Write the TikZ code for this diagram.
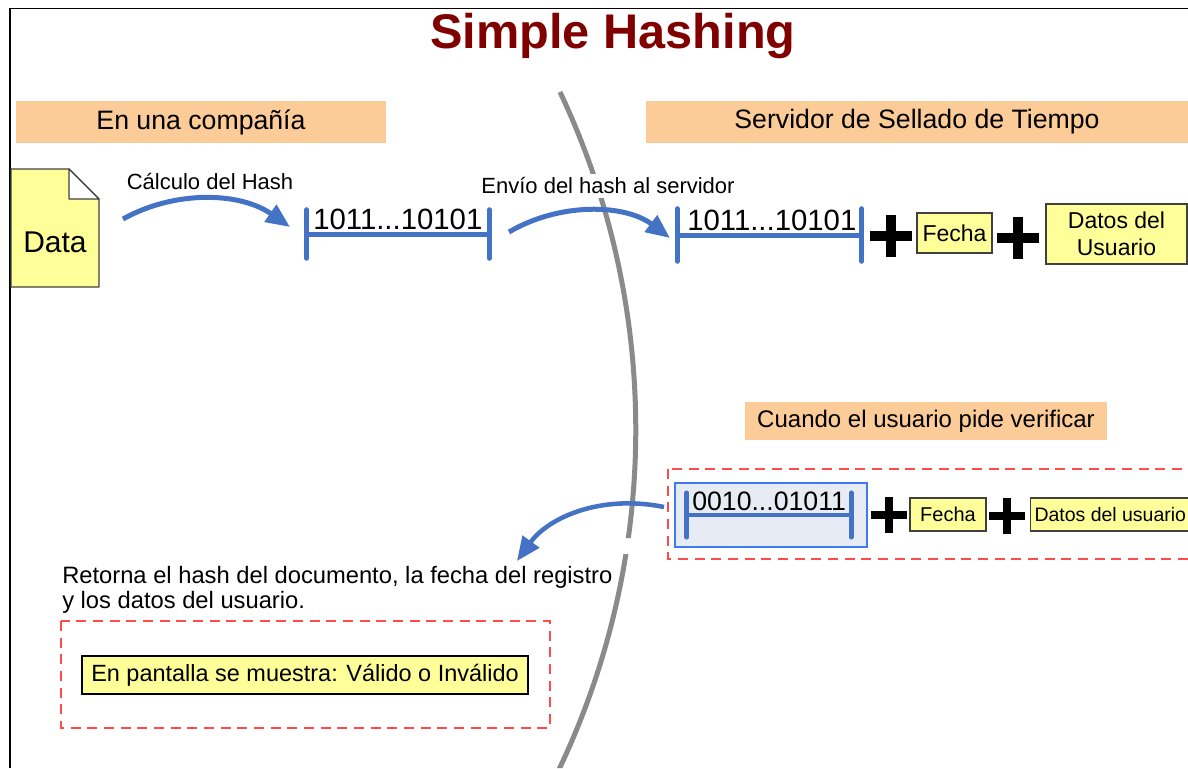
\documentclass[tikz,border=0pt]{standalone}
\usepackage{fontspec}
\setmainfont{Liberation Sans}
\usetikzlibrary{arrows.meta}

\definecolor{titlered}{HTML}{800000}
\definecolor{hdrorange}{HTML}{FCCC98}
\definecolor{noteyellow}{HTML}{FFFF99}
\definecolor{flowblue}{HTML}{4472C4}
\definecolor{dashred}{HTML}{FF4B4B}
\definecolor{boxblue}{HTML}{3D7BF0}
\definecolor{boxfill}{HTML}{E7EBF4}
\definecolor{divgray}{HTML}{8A8A8A}
\definecolor{edgegray}{HTML}{404040}

\tikzset{
  header/.style={fill=hdrorange, inner sep=0pt, font=\fontsize{20}{24}\selectfont},
  noteyellow box/.style={fill=noteyellow, draw=edgegray, line width=0.8pt, inner sep=2pt},
  flow/.style={draw=flowblue, line width=3.75pt, -{Triangle[length=18pt,width=15pt]}},
  hashbar/.style={draw=flowblue, line width=3.75pt, line cap=round},
  hashslot/.style={inner sep=0pt},
  hashtext/.style={inner sep=0pt, anchor=base west},
  plusmark/.style={inner sep=0pt, minimum size=#1,
    path picture={\draw[line width=0.24*#1]
      (path picture bounding box.north) -- (path picture bounding box.south)
      (path picture bounding box.west) -- (path picture bounding box.east);}},
  framebox/.style={draw=dashred, line width=0.9pt, dash pattern=on 7.5pt off 5pt},
  divider/.style={draw=divgray, line width=3.75pt},
  caption/.style={inner sep=0pt, font=\fontsize{16.5}{20}\selectfont}
}

\begin{document}
\begin{tikzpicture}[x=0.75pt,y=-0.75pt]
\useasboundingbox (0,0) rectangle (1188,768);
\clip (0,0) rectangle (1188,768);

% outer frame (top and left edges)
\draw[line width=1.1pt] (10,768) -- (10,8.5) -- (1188,8.5);

% title
\node[font=\bfseries\fontsize{36.5}{42}\selectfont, text=titlered] (title) at (613,36) {Simple Hashing};

% boundary between company and server
\begin{scope}
  \clip (0,0) rectangle (1188,538) (0,554) rectangle (1188,768);
  \draw[divider] (560,92) arc[start angle=-25.3, end angle=27, radius=790];
\end{scope}

% section headers
\node[header, minimum width=277.5pt, minimum height=31.5pt] (hdrCompany) at (201,122) {En una compañía};
\node[header, minimum width=406.5pt, minimum height=31.5pt] (hdrServer) at (917,122) {Servidor de Sellado de Tiempo};
\node[header, minimum width=271.5pt, minimum height=28.5pt, font=\fontsize{18}{22}\selectfont] (hdrVerify) at (926,421) {Cuando el usuario pide verificar};

% document icon
\fill[noteyellow] (11,169) -- (69,169) -- (99,199) -- (99,287) -- (11,287) -- cycle;
\draw[edgegray, line width=0.9pt, line join=round] (11,169) -- (69,169) -- (99,199) -- (99,287) -- (11,287) -- cycle;
\filldraw[fill=white, draw=edgegray, line width=0.9pt, line join=round] (69,169) -- (69,199) -- (99,199) -- cycle;
\node[inner sep=0pt, font=\fontsize{22.5}{26}\selectfont] (data) at (55,242) {Data};

% hash computed in the company
\node[hashslot, minimum width=136.5pt, minimum height=36pt] (hashA) at (398,234) {};
\draw[hashbar] (hashA.north west) -- (hashA.south west)
               (hashA.north east) -- (hashA.south east);
\draw[hashbar, line cap=butt] (hashA.west) -- (hashA.east);
\node[hashtext, font=\fontsize{22}{26}\selectfont] (hashAtext) at (313,229) {1011...10101};

% calculation arrow
\node[caption] (lblCalc) at (210,182) {Cálculo del Hash};
\coordinate (a1s) at (123,219);
\coordinate (a1e) at (290,227);
\draw[flow] (a1s) .. controls (175,190) and (240,192) .. (a1e);

% sending arrow
\node[caption, fill=white, inner sep=3pt] (lblSend) at (608,186) {Envío del hash al servidor};
\coordinate (a2s) at (509,232);
\coordinate (a2e) at (670,238);
\draw[flow] (a2s) .. controls (560,202) and (625,204) .. (a2e);

% hash stored on the server
\node[hashslot, minimum width=138pt, minimum height=39pt] (hashB) at (769.5,235) {};
\draw[hashbar] (hashB.north west) -- (hashB.south west)
               (hashB.north east) -- (hashB.south east);
\draw[hashbar, line cap=butt] (hashB.west) -- (hashB.east);
\node[hashtext, font=\fontsize{22}{26}\selectfont] (hashBtext) at (687,230) {1011...10101};

\node[plusmark=31.5pt] (plus1) at (891,236) {};
\node[noteyellow box, minimum width=56.25pt, minimum height=30pt, font=\fontsize{17.25}{20}\selectfont] (fecha1) at (954.5,233) {Fecha};
\node[plusmark=31.5pt] (plus2) at (1018,238) {};
\node[noteyellow box, minimum width=105.75pt, minimum height=45pt, align=center, font=\fontsize{17.25}{20.25}\selectfont] (datos1) at (1116.5,234) {Datos del\\Usuario};

% verification record
\draw[framebox] (668,469) rectangle (1210,559);
\node[draw=boxblue, fill=boxfill, line width=2pt, minimum width=144pt, minimum height=48pt, inner sep=0pt] (hashCbox) at (771,515) {};
\node[hashslot, minimum width=123pt, minimum height=33pt] (hashC) at (769,515) {};
\draw[hashbar, line width=3.4pt] (hashC.north west) -- (hashC.south west)
               (hashC.north east) -- (hashC.south east);
\draw[hashbar, line width=3.4pt, line cap=butt] (hashC.west) -- (hashC.east);
\node[hashtext, font=\fontsize{20}{24}\selectfont] (hashCtext) at (692,510) {0010...01011};

\node[plusmark=27pt] (plus3) at (889,515) {};
\node[noteyellow box, minimum width=57pt, minimum height=24.75pt, font=\fontsize{15}{18}\selectfont] (fecha2) at (948,514.5) {Fecha};
\node[plusmark=27pt] (plus4) at (1007,516) {};
\node[noteyellow box, anchor=west, minimum height=24.75pt, inner sep=3pt, font=\fontsize{14.6}{18}\selectfont] (datos2) at (1030,514.5) {Datos del usuario\hspace{30pt}};

% answer returned to the user
\coordinate (a3s) at (664,507);
\coordinate (a3e) at (517,561);
\draw[flow, line width=3.4pt] (a3s) .. controls (600,494) and (548,518) .. (a3e);

\node[inner sep=0pt, anchor=west, align=left, font=\fontsize{17.8}{18.75}\selectfont] (retorna) at (62,590)
  {Retorna el hash del documento, la fecha del registro\\y los datos del usuario.};

\draw[framebox] (61,621) rectangle (550,728);
\node[fill=noteyellow, draw=black, line width=1.5pt, minimum width=334.5pt, minimum height=28.5pt, inner sep=0pt, font=\fontsize{17.6}{21}\selectfont] (result) at (305,675) {En pantalla se muestra: Válido o Inválido};

\end{tikzpicture}
\end{document}
